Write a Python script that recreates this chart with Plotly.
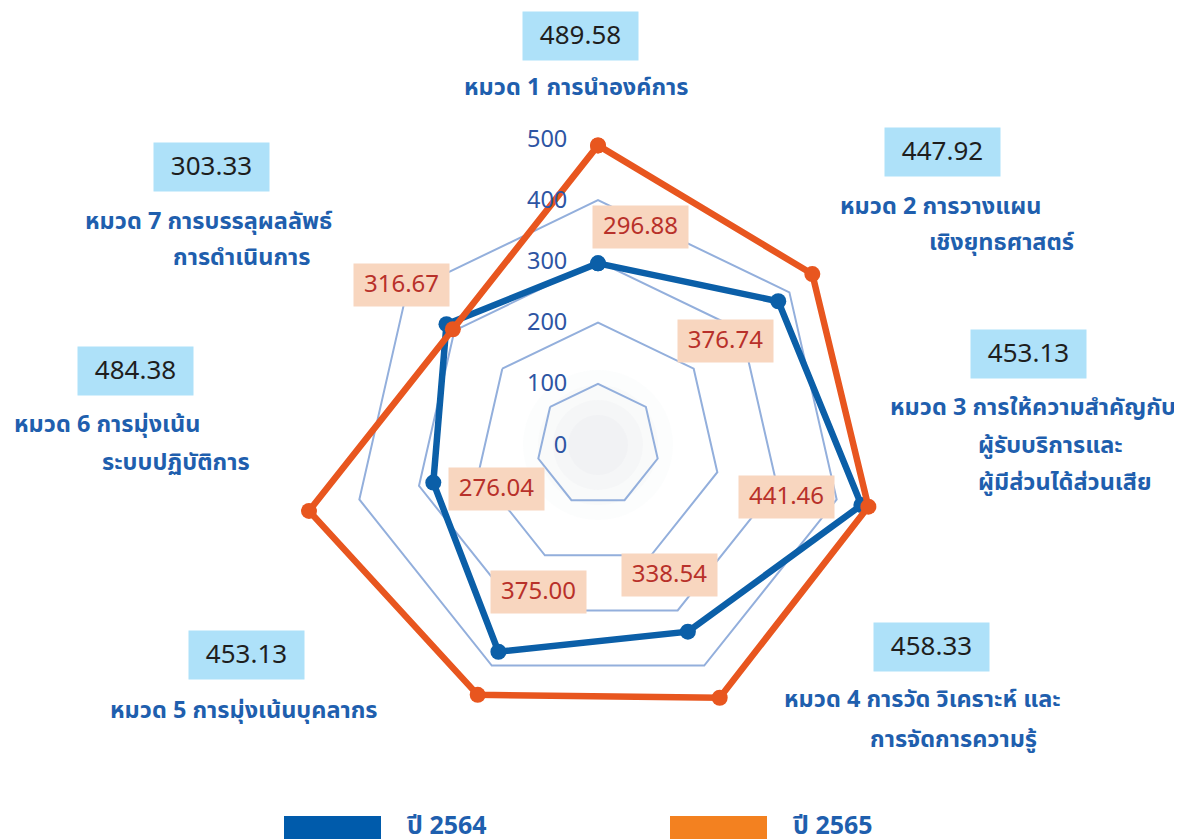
import plotly.graph_objects as go

# data
categories = ["หมวด 1", "หมวด 2", "หมวด 3", "หมวด 4", "หมวด 5", "หมวด 6", "หมวด 7"]
values_2564 = [296.88, 376.74, 441.46, 338.54, 375.00, 276.04, 316.67]
values_2565 = [489.58, 447.92, 453.13, 458.33, 453.13, 484.38, 303.33]
radial_ticks = [0, 100, 200, 300, 400, 500]
series_names = ["ปี 2564", "ปี 2565"]

cat_label_lines = [
    ["หมวด 1 การนำองค์การ"],
    ["หมวด 2 การวางแผน", "เชิงยุทธศาสตร์"],
    ["หมวด 3 การให้ความสำคัญกับ", "ผู้รับบริการและ", "ผู้มีส่วนได้ส่วนเสีย"],
    ["หมวด 4 การวัด วิเคราะห์ และ", "การจัดการความรู้"],
    ["หมวด 5 การมุ่งเน้นบุคลากร"],
    ["หมวด 6 การมุ่งเน้น", "ระบบปฏิบัติการ"],
    ["หมวด 7 การบรรลุผลลัพธ์", "การดำเนินการ"],
]

W, H = 1182, 839
OFF = 8  # page body margin
FONT = "Noto Sans Thai, Tahoma, Noto Sans, sans-serif"
BLUE = "#0b5fa8"
ORANGE = "#e8561f"
TXT_BLUE = "#1f5fae"

def px(x, y):
    # screenshot pixel -> paper coords
    return (x - OFF) / W, 1 - (y - OFF) / H

cx, cy, R = 598, 445, 306

fig = go.Figure()
fig.add_trace(go.Scatterpolar(
    r=values_2564 + values_2564[:1], theta=categories + categories[:1],
    mode="lines+markers", name=series_names[0],
    line=dict(color=BLUE, width=6.5), marker=dict(size=16, color=BLUE),
))
fig.add_trace(go.Scatterpolar(
    r=values_2565 + values_2565[:1], theta=categories + categories[:1],
    mode="lines+markers", name=series_names[1],
    line=dict(color=ORANGE, width=6.5), marker=dict(size=16, color=ORANGE),
))

x0, y1 = px(cx - R, cy - R)
x1, y0 = px(cx + R, cy + R)
fig.update_layout(
    width=W, height=H, margin=dict(l=0, r=0, t=0, b=0),
    paper_bgcolor="white", plot_bgcolor="white", showlegend=False,
    font=dict(family=FONT),
    polar=dict(
        domain=dict(x=[x0, x1], y=[y0, y1]),
        bgcolor="rgba(0,0,0,0)",
        gridshape="linear",
        radialaxis=dict(range=[0, 500], tickvals=radial_ticks, angle=90, tickangle=90,
                        side="counterclockwise",
                        showline=False, gridcolor="#93afdc", gridwidth=1.8,
                        ticks="outside", ticklen=22, tickcolor="rgba(0,0,0,0)",
                        tickfont=dict(size=23.5, color="#2e55a3", family=FONT)),
        angularaxis=dict(rotation=90, direction="clockwise", showticklabels=False,
                         showgrid=False, showline=False, ticks=""),
    ),
)

# soft grey glow in the centre
for rad, a in [(75, 0.04), (60, 0.05), (45, 0.06), (30, 0.06)]:
    ax0, ay1 = px(cx - rad, cy - rad)
    ax1, ay0 = px(cx + rad, cy + rad)
    fig.add_shape(type="circle", xref="paper", yref="paper", x0=ax0, x1=ax1, y0=ay0, y1=ay1,
                  fillcolor=f"rgba(190,195,205,{a})", line=dict(width=0), layer="below")

# value boxes for 2564 (peach)
peach_pos = [(640, 227), (725, 341), (786, 497), (669, 575), (538, 592), (496, 489), (401, 285)]
for v, (x, y) in zip(values_2564, peach_pos):
    xx, yy = px(x, y)
    fig.add_annotation(x=xx, y=yy, xref="paper", yref="paper", text=f"{v:.2f}",
                       showarrow=False, bgcolor="#f8d6bf", width=93, height=40,
                       xanchor="center", yanchor="middle",
                       font=dict(size=24, color="#b8312a", family=FONT))

# value boxes for 2565 (light blue)
blue_pos = [(580, 36), (943, 152), (1028, 354), (931, 647), (247, 655), (135, 371), (211, 167)]
for v, (x, y) in zip(values_2565, blue_pos):
    xx, yy = px(x, y)
    fig.add_annotation(x=xx, y=yy, xref="paper", yref="paper", text=f"{v:.2f}",
                       showarrow=False, bgcolor="#aee1f9", width=113, height=46,
                       xanchor="center", yanchor="middle",
                       font=dict(size=26, color="#1e1e1e", family=FONT))

# category labels (each line: left x, y)
label_pos = [
    [(462, 88)],
    [(838, 207), (927, 243)],
    [(888, 408), (976, 446), (976, 483)],
    [(782, 700), (868, 740)],
    [(108, 711)],
    [(12, 425), (100, 463)],
    [(83, 222), (171, 258)],
]
for lines, poss in zip(cat_label_lines, label_pos):
    for t, (x, y) in zip(lines, poss):
        xx, yy = px(x, y)
        fig.add_annotation(x=xx, y=yy, xref="paper", yref="paper", text=f"<b>{t}</b>",
                           showarrow=False, xanchor="left", yanchor="middle",
                           font=dict(size=23.5, color=TXT_BLUE, family=FONT))

# legend
legend_items = [(284, "#005bab"), (670, "#f38120")]
for name, (lx, col) in zip(series_names, legend_items):
    rx0, ry1 = px(lx, 816)
    rx1, _ = px(lx + 97, 816)
    fig.add_shape(type="rect", xref="paper", yref="paper",
                  x0=rx0, x1=rx1, y0=0, y1=ry1,
                  fillcolor=col, line=dict(width=0))
    xx, yy = px(lx + 121, 826)
    fig.add_annotation(x=xx, y=yy, xref="paper", yref="paper", text=f"<b>{name}</b>",
                       showarrow=False, xanchor="left", yanchor="middle",
                       font=dict(size=25, color=TXT_BLUE, family=FONT))

fig.write_html("out.html")
